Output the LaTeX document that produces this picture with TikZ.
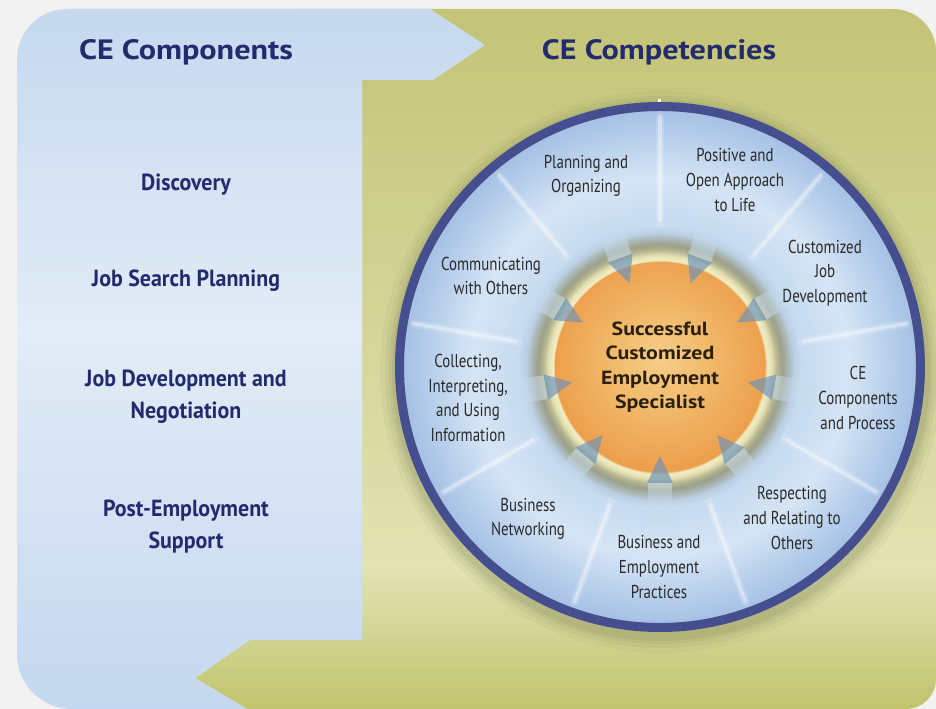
\documentclass[tikz,border=0pt]{standalone}
\usepackage{fontspec}
\setmainfont{PT Sans}
\newfontfamily\condfont[FakeStretch=0.8]{PT Sans}
\newfontfamily\listfont[FakeStretch=0.94]{PT Sans}
\newfontfamily\widefont[FakeStretch=1.15]{PT Sans}
\usetikzlibrary{calc}

% palette
\definecolor{pagegray}{HTML}{F2F2F2}
\definecolor{navy}{HTML}{232B6E}
\definecolor{ringblue}{HTML}{454F8F}
\definecolor{labelink}{HTML}{2A2A2A}
\definecolor{coreink}{HTML}{2B2010}
\definecolor{pbA}{HTML}{C6D9EF}
\definecolor{pbB}{HTML}{E3ECF7}
\definecolor{pbC}{HTML}{C5D8EF}
\definecolor{gnA}{HTML}{C0C46C}
\definecolor{gnB}{HTML}{E1E3B3}
\definecolor{gnC}{HTML}{D4D699}
\definecolor{gnD}{HTML}{C3C477}
\definecolor{dkA}{HTML}{C3D8EE}
\definecolor{dkB}{HTML}{D6E5F5}
\definecolor{dkC}{HTML}{B3CCEA}
\definecolor{dkD}{HTML}{A6C1E5}
\definecolor{orA}{HTML}{F6CD88}
\definecolor{orB}{HTML}{F1B96A}
\definecolor{orC}{HTML}{ECA04E}
\definecolor{crA}{HTML}{F3EFC6}
\definecolor{crB}{HTML}{E2DFB0}
\definecolor{olA}{HTML}{B4B58F}
\definecolor{olB}{HTML}{9DA08A}
\definecolor{olC}{HTML}{A9B6B4}
\definecolor{olD}{HTML}{BCCFE2}
\definecolor{arrowcol}{HTML}{6A92BC}
\definecolor{tailcol}{HTML}{C9DEEE}
\definecolor{shadowcol}{HTML}{5E6038}

% backgrounds and disks
\pgfdeclareverticalshading{panelshade}{100bp}{color(0bp)=(pbC); color(25bp)=(pbC); color(52bp)=(pbB); color(75bp)=(pbA); color(100bp)=(pbA)}
\pgfdeclareverticalshading{greenshade}{100bp}{color(0bp)=(gnA); color(25bp)=(gnA); color(35bp)=(gnB); color(52bp)=(gnC); color(75bp)=(gnD); color(100bp)=(gnD)}
\pgfdeclareradialshading{diskshade}{\pgfpoint{0bp}{0bp}}{color(0bp)=(dkA); color(12.7bp)=(dkA); color(18.5bp)=(dkB); color(23bp)=(dkC); color(25bp)=(dkD); color(50bp)=(dkD)}
\pgfdeclareradialshading{glowshade}{\pgfpoint{0bp}{0bp}}{color(0bp)=(orC); color(18.7bp)=(orC); color(19.1bp)=(crA); color(20bp)=(crB); color(20.9bp)=(olA); color(21.8bp)=(olB); color(22.9bp)=(olC); color(23.9bp)=(olD); color(25bp)=(dkA); color(50bp)=(dkA)}
\pgfdeclareradialshading{coreshade}{\pgfpoint{0bp}{2bp}}{color(0bp)=(orA); color(12bp)=(orB); color(25bp)=(orC); color(50bp)=(orC)}

\tikzset{
  title/.style={text=navy, font=\widefont\bfseries\fontsize{21}{24}\selectfont},
  component/.style={text=navy, align=center, font=\listfont\bfseries\fontsize{17.5}{24}\selectfont},
  competency/.style={text=labelink, align=center, font=\condfont\fontsize{14}{18.4}\selectfont},
  core/.style={text=coreink, align=center, font=\widefont\bfseries\fontsize{14.3}{18.4}\selectfont},
  divider soft/.style={white, line width=6pt, opacity=0.16, line cap=round},
  divider line/.style={white, line width=2.6pt, opacity=0.38, line cap=round},
}

\begin{document}
\begin{tikzpicture}[x=0.75pt, y=0.75pt]
\useasboundingbox (0,0) rectangle (936,709);
\fill[pagegray] (0,0) rectangle (936,709);

% olive field with the returning arrow at the bottom
\shade[shading=greenshade] (195,31) -- (250,69) -- (300,69) -- (300,700) -- (893,700)
  arc[start angle=90, end angle=0, radius=43] -- (936,30)
  arc[start angle=0, end angle=-90, radius=30] -- (247,0) -- cycle;

% blue column with the forward arrow at the top
\shade[shading=panelshade] (17,55) -- (17,650) arc[start angle=180, end angle=90, radius=50]
  -- (430,700) -- (485,664) -- (433,629) -- (362,629) -- (362,69) -- (250,69)
  -- (195,31) -- (247,0) -- (72,0) arc[start angle=270, end angle=180, radius=55] -- cycle;

\coordinate (c) at (660,342);

% soft shadow under the wheel
\foreach \r/\o in {281/0.05, 276/0.07, 272/0.08, 269/0.10}
  \fill[shadowcol, opacity=\o] ($(c)+(1,-5)$) circle[radius=\r];

% wheel
\shade[shading=diskshade] (c) circle[radius=256];
\foreach \a in {90,50,10,-30,-70,-110,-150,170,130} {
  \draw[divider soft] ($(c)+(\a:140)$) -- ($(c)+(\a:250)$);
  \draw[divider line] ($(c)+(\a:146)$) -- ($(c)+(\a:250)$);
}
\draw[ringblue, line width=6.75pt] (c) circle[radius=260.5];
\fill[white] (657.5,606.5) rectangle (660.5,609.5);

% glow and core
\shade[shading=glowshade] (c) circle[radius=140];
\shade[shading=coreshade] (c) circle[radius=105];

% inward arrows
\foreach \a in {110,70,30,-10,-50,-90,-130,-170,150} {
  \begin{scope}[shift={(c)}, rotate=\a]
    \foreach \k/\o in {0/0.55, 1/0.45, 2/0.36, 3/0.27, 4/0.18, 5/0.10}
      \fill[tailcol, opacity=\o] (116+7*\k,-12) rectangle (123+7*\k,12);
    \fill[arrowcol, opacity=0.66] (89,0) -- (116,-13) -- (116,13) -- cycle;
  \end{scope}
}

% titles
\node[title] (comp title) at (186,657) {CE Components};
\node[title] (compet title) at (659,657) {CE Competencies};

% component list
\node[component] (discovery) at (186,524) {Discovery};
\node[component] (jobsearch) at (186,428) {Job Search Planning};
\node[component] (jobdev) at (186,312) {Job Development and\\Negotiation};
\node[component] (postemp) at (186,182) {Post-Employment\\Support};

% competencies around the wheel
\node[competency] (planning) at (586,533) {Planning and\\Organizing};
\node[competency] (positive) at (735,529) {Positive and\\Open Approach\\to Life};
\node[competency] (customjob) at (825,436) {Customized\\Job\\Development};
\node[competency] (ceproc) at (858,311) {CE\\Components\\and Process};
\node[competency] (respect) at (792,191) {Respecting\\and Relating to\\Others};
\node[competency] (bizpractice) at (659,142) {Business and\\Employment\\Practices};
\node[competency] (biznet) at (528,190) {Business\\Networking};
\node[competency] (collecting) at (468,311) {Collecting,\\Interpreting,\\and Using\\Information};
\node[competency] (communicating) at (491,433) {Communicating\\with Others};

% core
\node[core] (specialist) at (c) {Successful\\Customized\\Employment\\Specialist};
\end{tikzpicture}
\end{document}
